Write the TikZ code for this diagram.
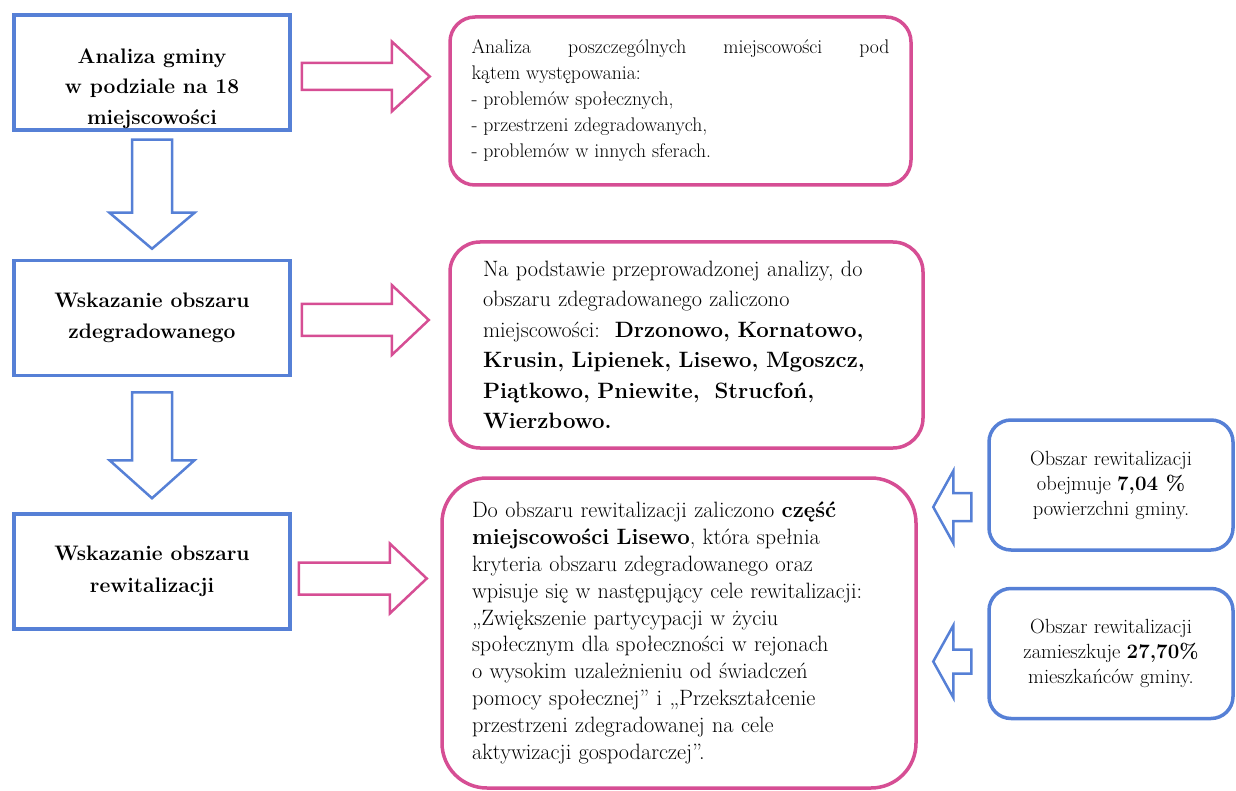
\documentclass[tikz,border=0pt]{standalone}
\usepackage{tikz}
\usepackage{fontspec}
\usetikzlibrary{positioning,calc}

\definecolor{boxblue}{RGB}{86,128,214}
\definecolor{boxpink}{RGB}{214,78,148}

% hollow block arrow: length / shaft width / head width / head length
\tikzset{
  pics/fatarrow/.style n args={4}{code={
    \draw[pic actions] (0,-#2/2) -- (#1-#4,-#2/2) -- (#1-#4,-#3/2) -- (#1,0)
      -- (#1-#4,#3/2) -- (#1-#4,#2/2) -- (0,#2/2) -- cycle;
  }}
}

\begin{document}
\begin{tikzpicture}[x=1pt,y=1pt,
    main box/.style={rectangle,draw=boxblue,line width=3.5pt,minimum width=276pt,minimum height=115pt,
      align=center,font=\fontsize{21}{31.5}\selectfont\bfseries},
    pink box/.style={rectangle,rounded corners=25pt,draw=boxpink,line width=3.5pt},
    stat box/.style={rectangle,rounded corners=22pt,draw=boxblue,line width=3.5pt,minimum width=244pt,
      minimum height=130pt,align=center,font=\fontsize{20.5}{25}\selectfont},
    pink arrow/.style={draw=boxpink,line width=2.5pt,fill=white},
    blue arrow/.style={draw=boxblue,line width=2.5pt,fill=white}]

  \useasboundingbox (0,0) rectangle (1236,-791);

  % left column
  \node[main box] (analiza) at (152,-72.5) {};
  \begin{scope}
    \clip (analiza.north west) rectangle (analiza.south east);
    \node[align=center,font=\fontsize{21}{30.5}\selectfont\bfseries] (analizatxt)
      at ($(analiza.center)+(0,-16)$) {Analiza gminy\\w podziale na 18\\miejscowości};
  \end{scope}
  \node[main box] (zdegr) [below of=analiza,node distance=245.5pt] {Wskazanie obszaru\\zdegradowanego};
  \node[main box] (rewit) [below of=zdegr,node distance=253.5pt] {Wskazanie obszaru\\rewitalizacji};

  % middle column
  \node[pink box,minimum width=461pt,minimum height=168pt,text width=418pt,align=justify,
    font=\fontsize{19.7}{26}\selectfont] (opis1) at (680.5,-101)
    {Analiza poszczególnych miejscowości pod\linebreak kątem występowania:\\
     - problemów społecznych,\\
     - przestrzeni zdegradowanych,\\
     - problemów w innych sferach.};
  \node[pink box,rounded corners=30pt,minimum width=473pt,minimum height=206pt,text width=407pt,align=left,
    font=\fontsize{22.2}{30.5}\selectfont] (opis2) at (686.5,-345)
    {Na podstawie przeprowadzonej analizy, do\\
     obszaru zdegradowanego zaliczono\\
     miejscowości:\ \ \textbf{Drzonowo, Kornatowo,}\\
     \textbf{Krusin, Lipienek, Lisewo, Mgoszcz,}\\
     \textbf{Piątkowo, Pniewite,\ \ Strucfoń,}\\
     \textbf{Wierzbowo.}};
  \node[pink box,rounded corners=45pt,minimum width=474pt,minimum height=310pt,text width=414pt,align=left,
    font=\fontsize{22.2}{26.8}\selectfont] (opis3) at (679,-633)
    {Do obszaru rewitalizacji zaliczono \textbf{część}\\
     \textbf{miejscowości Lisewo}, która spełnia\\
     kryteria obszaru zdegradowanego oraz\\
     wpisuje się w następujący cele rewitalizacji:\\
     „Zwiększenie partycypacji w życiu\\
     społecznym dla społeczności w rejonach\\
     o wysokim uzależnieniu od świadczeń\\
     pomocy społecznej” i „Przekształcenie\\
     przestrzeni zdegradowanej na cele\\
     aktywizacji gospodarczej”.\par\vspace{22pt}};

  % right column
  \node[stat box] (powierzchnia) at (1111,-485)
    {Obszar rewitalizacji\\obejmuje \textbf{7,04 \%}\\powierzchni gminy.};
  \node[stat box] (mieszkancy) [below=35pt of powierzchnia]
    {Obszar rewitalizacji\\zamieszkuje \textbf{27,70\%}\\mieszkańców gminy.};

  % block arrows
  \pic[blue arrow,rotate=-90] at ($(analiza.south)+(0,-8)$) {fatarrow={109}{40}{85}{36}};
  \pic[blue arrow,rotate=-90] at ($(zdegr.south)+(0,-15)$) {fatarrow={106}{40}{85}{38}};
  \pic[pink arrow] at ($(analiza.east)+(10,-4)$) {fatarrow={128}{27}{70}{38}};
  \pic[pink arrow] at ($(zdegr.east)+(10,-2)$) {fatarrow={127}{32}{70}{37}};
  \pic[pink arrow] at ($(rewit.east)+(7,-7)$) {fatarrow={128}{32}{70}{37}};
  \pic[blue arrow,rotate=180] at ($(powierzchnia.west)+(-16,-22)$) {fatarrow={38}{28}{72}{20}};
  \pic[blue arrow,rotate=180] at ($(mieszkancy.west)+(-16,-8)$) {fatarrow={38}{24}{72}{20}};
\end{tikzpicture}
\end{document}
